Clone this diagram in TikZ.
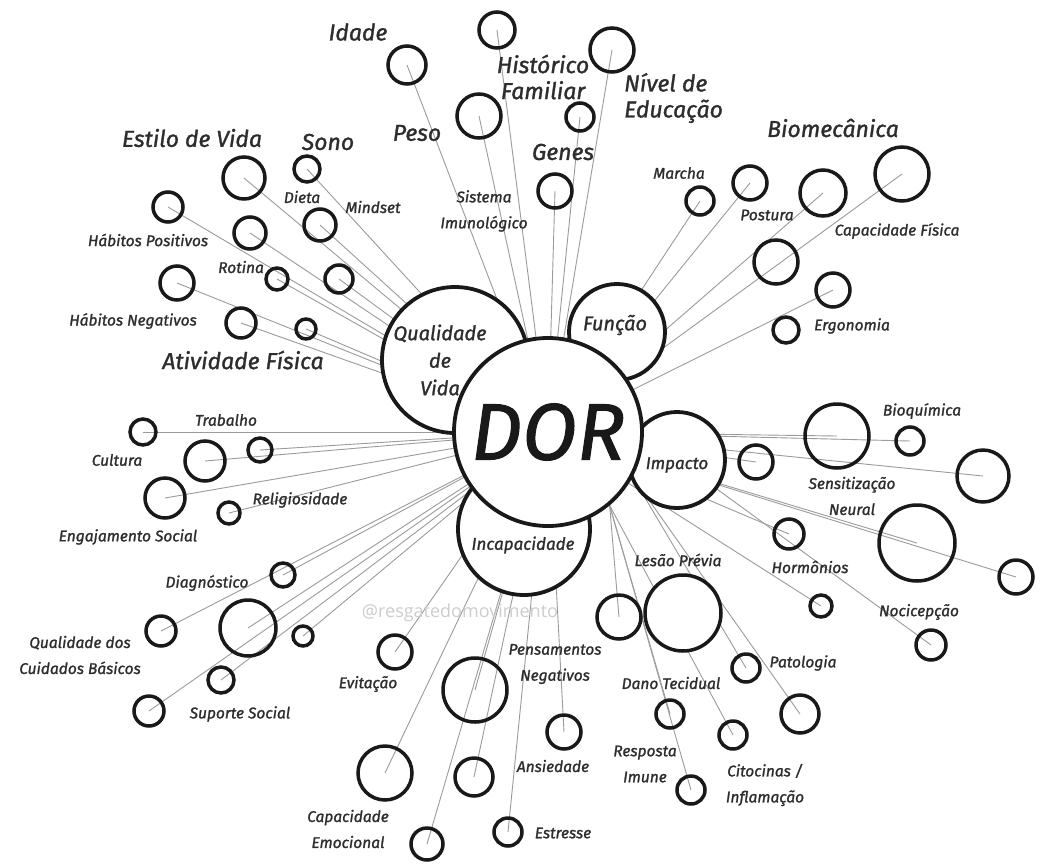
\documentclass[tikz,border=0pt]{standalone}
\usepackage{fontspec}
\setmainfont{Fira Sans}
\newfontfamily\hand{Fira Sans Italic}[FakeBold=1.3]
\newfontfamily\wmfont{Open Sans}
\usetikzlibrary{backgrounds}
\definecolor{conngray}{RGB}{155,155,155}
\definecolor{wmgray}{RGB}{205,205,205}
\definecolor{ink}{RGB}{25,25,25}
\definecolor{txt}{RGB}{45,45,45}
\tikzset{
  pc/.style={circle, draw=ink, line width=3.5pt, inner sep=0pt},
  hub/.style={circle, draw=ink, line width=3.8pt, fill=white, inner sep=0pt},
  conn/.style={draw=conngray, line width=0.9pt},
  lbls/.style={text=txt, font=\hand\fontsize{15.5}{26}\selectfont, inner sep=0pt, align=center},
  lblm/.style={text=txt, font=\hand\fontsize{20}{27}\selectfont, inner sep=0pt, align=center},
  lblb/.style={text=txt, font=\hand\fontsize{23}{26}\selectfont, inner sep=0pt, align=center},
}
\begin{document}
\begin{tikzpicture}[x=1pt,y=-1pt]
\useasboundingbox (0,0) rectangle (1053,863);
% hub circles
\node[hub, minimum size=146pt] (qual) at (455,360) {};
\node[hub, minimum size=96pt] (func) at (617,332) {};
\node[hub, minimum size=96pt] (imp) at (677,460) {};
\node[hub, minimum size=132pt] (inc) at (524,529) {};
\node[hub, minimum size=188pt] (dor) at (548,432) {};
\coordinate (hubse) at (dor.-50);
\coordinate (hube) at (dor.-28);
% peripheral circles
\foreach \n/\x/\y/\d in {
 p1/407/65/38, p2/497/30/36, p3/479/116/44, p4/612/50/44, p5/580/117/28, p6/555/191/34,
 p7/244/178/42, p8/307/169/26, p9/320/225/32, p10/168/207/30, p11/250/233/32, p12/277/279/22,
 p13/339/279/28, p14/177/283/34, p15/241/323/30, p16/306/329/20,
 p17/143/432/26, p18/205/461/40, p19/260/450/24, p20/165/498/40, p21/229/513/22,
 p22/283/575/24, p23/248/628/56, p24/303/636/20, p25/161/631/30, p26/221/680/26, p27/149/711/30,
 p28/395/652/34, p29/475/690/64, p30/385/773/54, p31/474/777/38, p32/427/844/32, p33/508/832/28,
 p34/564/732/34, p35/619/617/44, p37/746/668/28, p38/800/714/38, p39/670/714/28,
 p40/733/735/28, p41/691/790/28,
 p42/789/534/30, p43/821/606/22, p44/931/645/30, p45/917/543/76, p46/1016/577/34, p47/756/462/34,
 p48/837/436/64, p49/910/441/28, p50/983/476/52, p51/786/330/26, p52/833/290/34, p53/776/262/44,
 p54/700/201/28, p55/750/183/34, p56/823/193/46, p57/902/174/54}
 \node[pc, minimum size=\d pt] (\n) at (\x,\y) {};
\node[pc, fill=white, minimum size=76pt] (p36) at (683,613) {};
% connectors
\begin{scope}[on background layer]
\fill[white] (0,0) rectangle (1053,863);
\foreach \n in {p1,p2,p3,p4,p5,p6,p7,p8,p9,p10,p11,p12,p13,p14,p15,p16,p17,p18,p19,p20,
 p21,p22,p23,p24,p25,p26,p27,p28,p29,p30,p31,p32,p33,p34,
 p42,p43,p45,p46,p47,p48,p49,p50,p52,p54,p55,p56,p57}
 \draw[conn] (\n.center) -- (dor.center);
\foreach \n in {p35,p39,p40,p41}
 \draw[conn] (\n.center) -- (hubse);
\foreach \n in {p37,p38}
 \draw[conn] (\n.center) -- (hube);
\draw[conn] (p44.center) -- (imp.center);
\end{scope}
% hub labels
\node[text=ink, font=\hand\fontsize{80}{80}\selectfont, inner sep=0pt] (tdor) at (548,432) {DOR};
\node[lblm, font=\hand\fontsize{20}{27.5}\selectfont] (tqual) at (440,360) {Qualidade\\de\\Vida};
\node[lblm] (tfunc) at (615,325) {Função};
\node[lbls, font=\hand\fontsize{17}{20}\selectfont] (timp) at (677,465) {Impacto};
\node[lbls, font=\hand\fontsize{17}{20}\selectfont] (tinc) at (523,545) {Incapacidade};
% big labels
\node[lblb] (l1) at (358,32) {Idade};
\node[lblb] (l2) at (543,77) {Histórico\\Familiar};
\node[lblb, align=left, anchor=west] (l3) at (624,98) {Nível de\\Educação};
\node[lblb] (l4) at (417,133) {Peso};
\node[lblb] (l5) at (563,152) {Genes};
\node[lblb] (l6) at (192,138) {Estilo de Vida};
\node[lblb] (l7) at (328,142) {Sono};
\node[lblb] (l8) at (833,128) {Biomecânica};
\node[lblb] (l9) at (243,360) {Atividade Física};
% small labels
\node[lbls] (s1) at (302,197) {Dieta};
\node[lbls] (s2) at (373,207) {Mindset};
\node[lbls] (s3) at (484,211) {Sistema\\Imunológico};
\node[lbls] (s4) at (148,240) {Hábitos Positivos};
\node[lbls] (s5) at (241,267) {Rotina};
\node[lbls] (s6) at (133,321) {Hábitos Negativos};
\node[lbls] (s7) at (679,173) {Marcha};
\node[lbls] (s8) at (767,215) {Postura};
\node[lbls] (s9) at (897,231) {Capacidade Física};
\node[lbls] (s10) at (852,326) {Ergonomia};
\node[lbls] (s11) at (922,411) {Bioquímica};
\node[lbls] (s12) at (852,496) {Sensitização\\Neural};
\node[lbls] (s13) at (810,567) {Hormônios};
\node[lbls] (s14) at (919,612) {Nocicepção};
\node[lbls] (s15) at (678,560) {Lesão Prévia};
\node[lbls] (s16) at (803,663) {Patologia};
\node[lbls] (s17) at (671,683) {Dano Tecidual};
\node[lbls] (s18) at (645,764) {Resposta\\Imune};
\node[lbls] (s19) at (765,785) {Citocinas /\\Inflamação};
\node[lbls] (s20) at (563,833) {Estresse};
\node[lbls] (s21) at (553,766) {Ansiedade};
\node[lbls] (s22) at (555,664) {Pensamentos\\Negativos};
\node[lbls] (s23) at (368,684) {Evitação};
\node[lbls] (s24) at (348,829) {Capacidade\\Emocional};
\node[lbls] (s25) at (240,714) {Suporte Social};
\node[lbls] (s26) at (80,655) {Qualidade dos\\Cuidados Básicos};
\node[lbls] (s27) at (207,583) {Diagnóstico};
\node[lbls] (s28) at (128,537) {Engajamento Social};
\node[lbls] (s29) at (300,500) {Religiosidade};
\node[lbls] (s30) at (117,460) {Cultura};
\node[lbls] (s31) at (226,420) {Trabalho};
\node[text=wmgray, font=\fontsize{18}{20}\selectfont\wmfont, inner sep=0pt] (wm) at (460,613) {@resgatedomovimento};
\end{tikzpicture}
\end{document}
